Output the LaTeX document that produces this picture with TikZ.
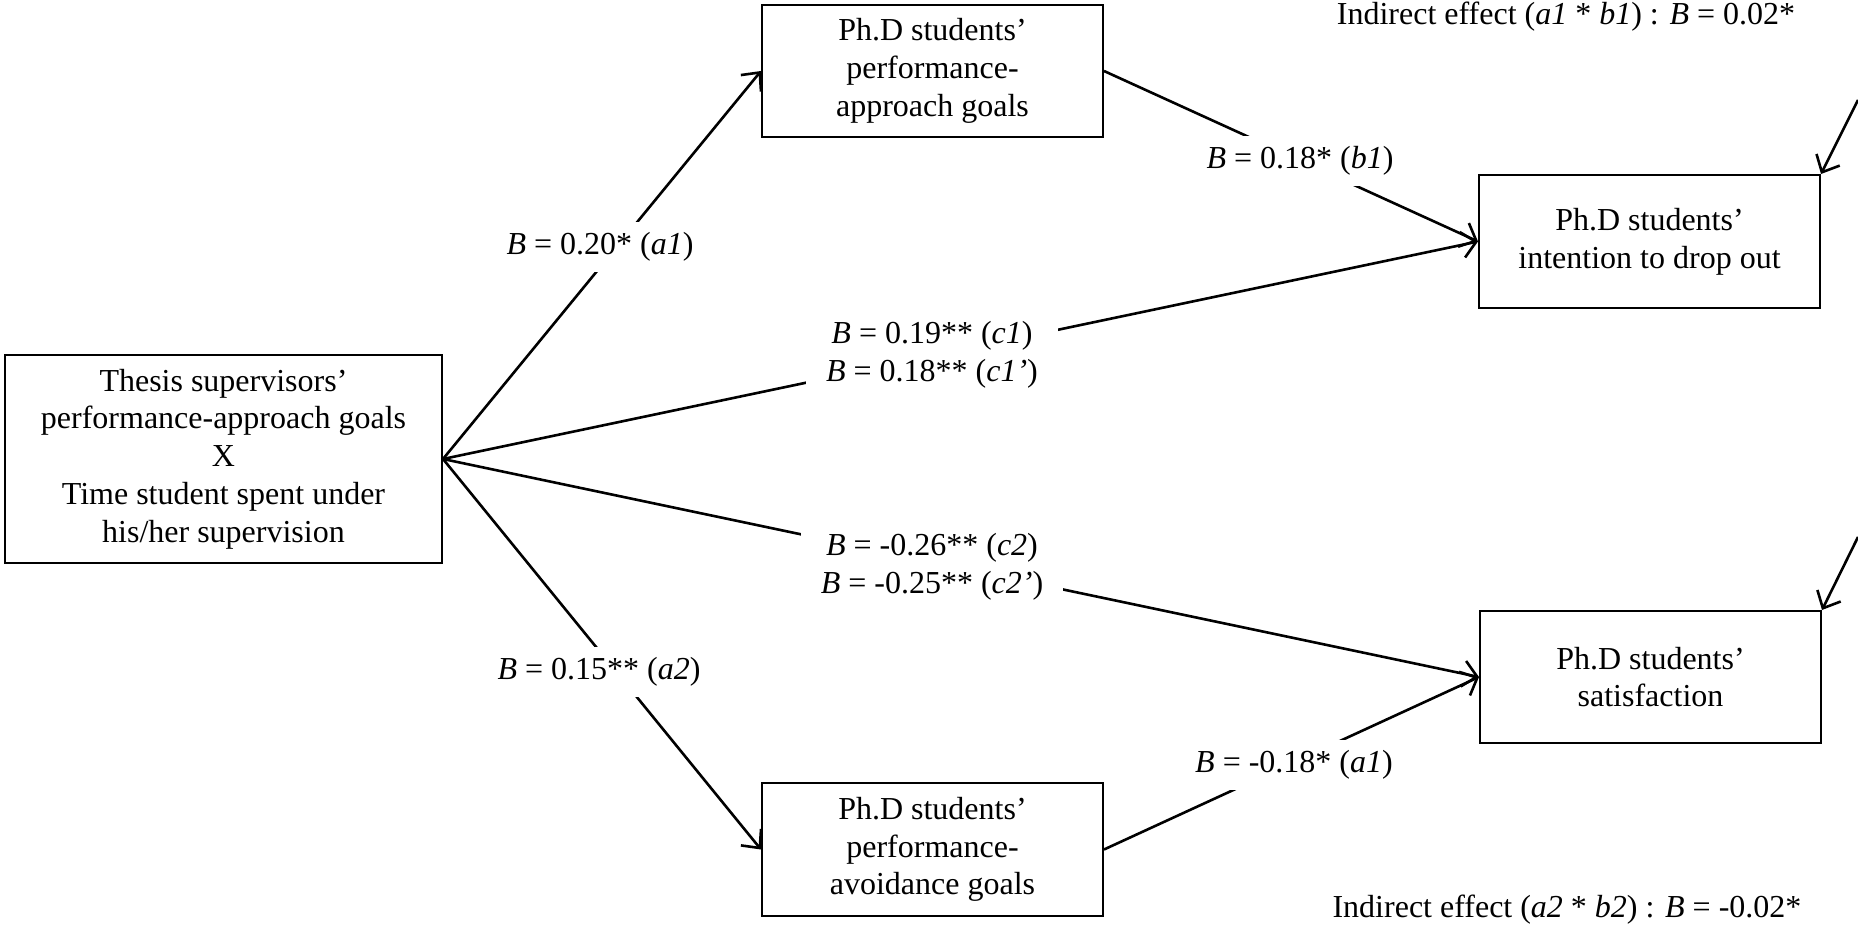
\documentclass[tikz,border=0pt]{standalone}
\usepackage{fontspec}
\setmainfont{Liberation Serif}
\usetikzlibrary{arrows.meta}
\begin{document}
\begin{tikzpicture}[x=0.5pt,y=-0.5pt,
  every node/.style={font=\fontsize{16}{18.85}\selectfont},
  box/.style={draw,line width=1pt,align=center,inner sep=0pt},
  arr/.style={line width=1.3pt,-{Straight Barb[length=7pt,width=13pt,line width=1.3pt]}},
  lab/.style={fill=white,align=center,inner xsep=10pt,inner ysep=5pt},
  note/.style={anchor=base}]
\useasboundingbox (0,0) rectangle (1858,925);
\node[box,minimum width=218.5pt,minimum height=104pt] (src) at (223.5,459)
  {Thesis supervisors’\\performance-approach goals\\X\\Time student spent under\\his/her supervision};
\node[box,minimum width=170.5pt,minimum height=66pt] (top) at (932.5,71)
  {Ph.D students’\\performance-\\approach goals};
\node[box,minimum width=170.5pt,minimum height=66.5pt] (bot) at (932.5,849.5)
  {Ph.D students’\\performance-\\avoidance goals};
\node[box,minimum width=170.5pt,minimum height=66.5pt] (int) at (1649.5,241.5)
  {Ph.D students’\\intention to drop out};
\node[box,minimum width=170.5pt,minimum height=66pt] (sat) at (1650.5,677)
  {Ph.D students’\\satisfaction};
\coordinate (e1) at (1858,100);
\coordinate (e2) at (1858,537);
\draw[arr] (src.east) -- (top.west);
\draw[arr] (src.east) -- (bot.west);
\draw[arr] (src.east) -- (int.west);
\draw[arr] (src.east) -- (sat.west);
\draw[arr] (top.east) -- (int.west);
\draw[arr] (bot.east) -- (sat.west);
\draw[arr] (e1) -- (int.north east);
\draw[arr] (e2) -- (sat.north east);
\node[lab] (la1) at (600,247) {\textit{B} = 0.20* (\textit{a1})};
\node[lab] (la2) at (599,672) {\textit{B} = 0.15** (\textit{a2})};
\node[lab] (lc1) at (932,355) {\textit{B} = 0.19** (\textit{c1})\\\textit{B} = 0.18** (\textit{c1’})};
\node[lab] (lc2) at (932,567) {\textit{B} = -0.26** (\textit{c2})\\\textit{B} = -0.25** (\textit{c2’})};
\node[lab] (lb1) at (1300,161) {\textit{B} = 0.18* (\textit{b1})};
\node[lab] (lb2) at (1294,765) {\textit{B} = -0.18* (\textit{a1})};
\node[note] (ind1) at (1566,25) {Indirect effect (\textit{a1} * \textit{b1}) : \textit{B} = 0.02*};
\node[note] (ind2) at (1567,917) {Indirect effect (\textit{a2} * \textit{b2}) : \textit{B} = -0.02*};
\end{tikzpicture}
\end{document}
